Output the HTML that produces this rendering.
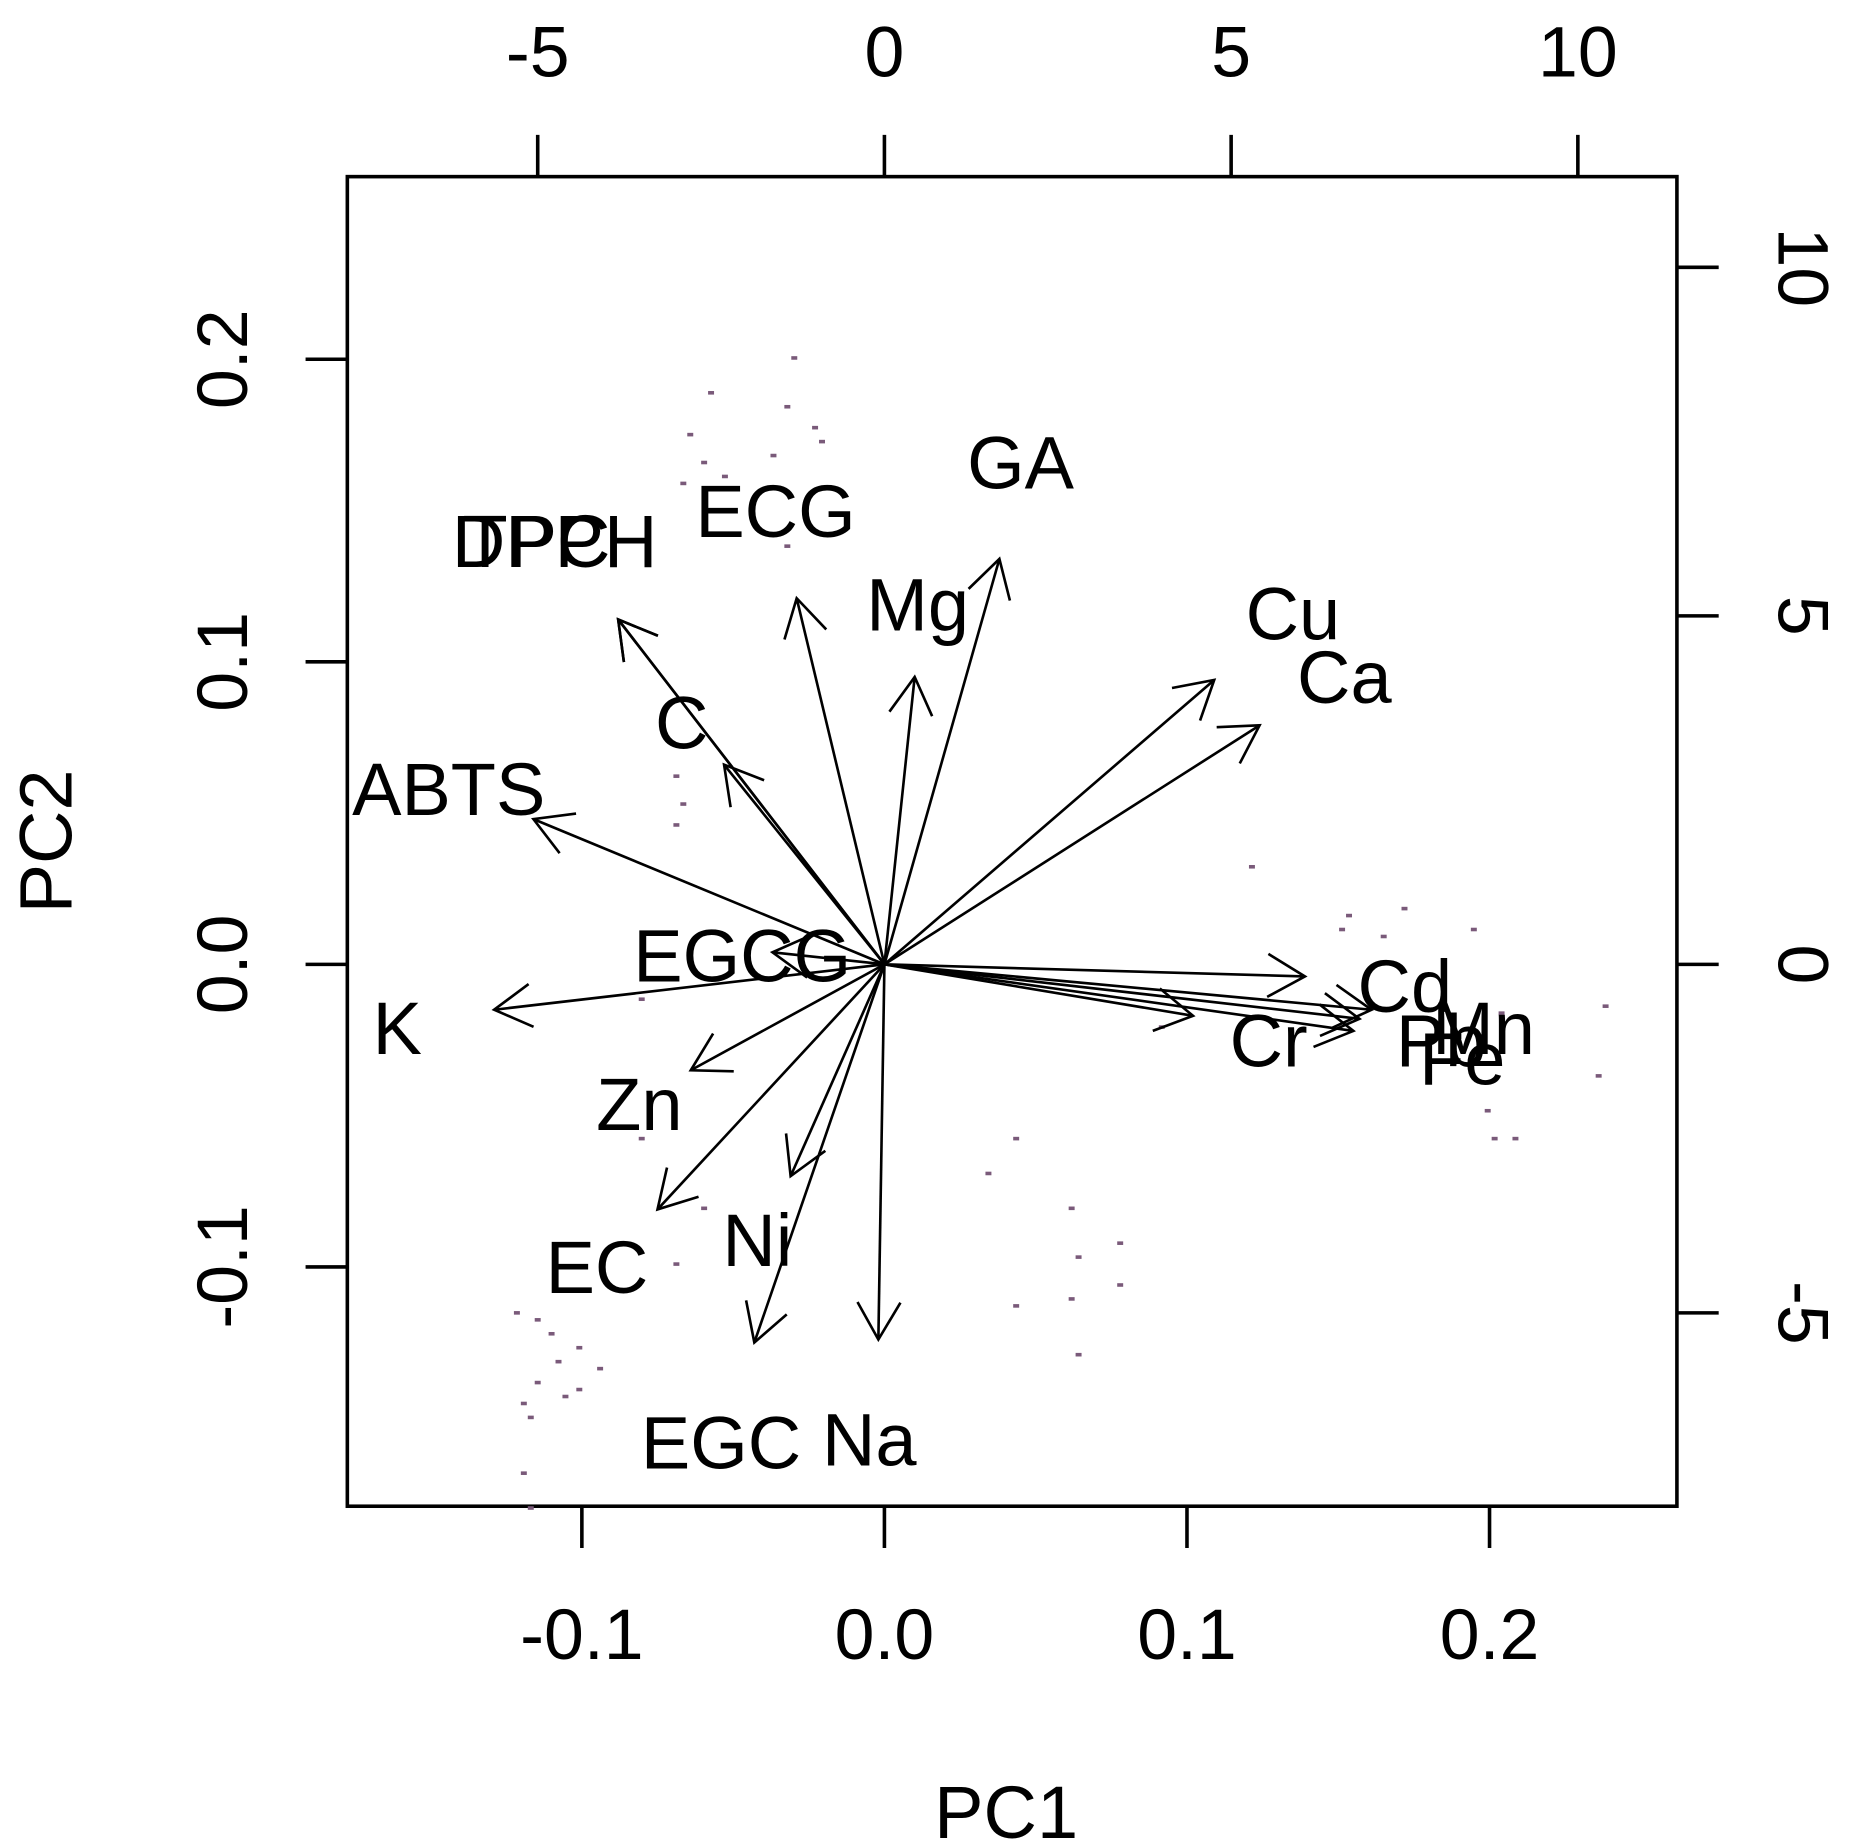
<!DOCTYPE html>
<html><head><meta charset="utf-8"><style>
html,body{margin:0;padding:0;background:#fff;}
svg{display:block;}
text{font-family:"Liberation Sans",sans-serif;fill:#000;}
</style></head><body>
<svg id="chart" width="1850" height="1841" viewBox="0 0 1550 1542.5" xmlns="http://www.w3.org/2000/svg">
<rect x="291" y="148" width="1114" height="1114" fill="none" stroke="#000" stroke-width="3"/>
<g id="axes"></g>
<g id="scores"></g>
<g id="arrows"></g>
<g id="labels"></g>
<text x="843" y="1540" font-size="62" text-anchor="middle">PC1</text>
<text x="60" y="705" font-size="62" text-anchor="middle" transform="rotate(-90 60 705)">PC2</text>
</svg>
<script>
// loadings (PC1, PC2)
const varNames = ["ECG","Mg","GA","Cu","Ca","DPPH","TPC","C","ABTS","EGCG","K","Zn","EC","Ni","EGC","Na","Cd","Cr","Pb","Fe","Mn"];
const loadX = [-0.029,0.010,0.038,0.109,0.124,-0.088,-0.088,-0.053,-0.116,-0.037,-0.129,-0.064,-0.075,-0.031,-0.043,-0.002,0.139,0.102,0.157,0.155,0.161];
const loadY = [0.121,0.095,0.134,0.094,0.079,0.114,0.114,0.066,0.048,0.004,-0.015,-0.035,-0.081,-0.070,-0.125,-0.124,-0.004,-0.017,-0.018,-0.022,-0.015];
const labX = [-0.036,0.011,0.045,0.135,0.152,-0.109,-0.115,-0.067,-0.144,-0.047,-0.161,-0.081,-0.095,-0.042,-0.054,-0.005,0.172,0.127,0.184,0.191,0.198];
const labY = [0.150,0.119,0.166,0.116,0.095,0.140,0.140,0.080,0.058,0.003,-0.021,-0.046,-0.100,-0.091,-0.158,-0.157,-0.007,-0.025,-0.025,-0.031,-0.021];
// scores (top/right axis units)
const scoreX = [-1.3,-2.5,-1.4,-2.8,-1.0,-0.9,-2.6,-2.3,-1.6,-2.9,-1.4,-3.0,-2.9,-3.0,-3.5,-3.5,-2.6,-3.0,-5.3,-5.0,-4.8,-4.4,-4.7,-4.1,-5.0,-4.6,-5.2,-4.4,-5.1,-5.2,-5.1,1.9,1.5,2.7,2.8,3.4,2.7,3.4,1.9,2.8,5.3,6.7,7.5,6.6,7.2,8.5,8.9,10.4,10.3,8.7,8.8,9.1,4.0];
const scoreY = [8.7,8.2,8.0,7.6,7.7,7.5,7.2,7.0,7.3,6.9,6.0,2.7,2.3,2.0,-0.5,-2.5,-3.5,-4.3,-5.0,-5.1,-5.3,-5.5,-5.7,-5.8,-6.0,-6.2,-6.3,-6.1,-6.5,-7.3,-7.8,-2.5,-3.0,-3.5,-4.2,-4.0,-4.8,-4.6,-4.9,-5.6,1.4,0.7,0.8,0.5,0.4,0.5,-0.7,-0.6,-1.6,-2.1,-2.5,-2.5,-0.9];
const bottomTicks = [-0.1,0.0,0.1,0.2];
const bottomLabels = ["-0.1","0.0","0.1","0.2"];
const leftTicks = [-0.1,0.0,0.1,0.2];
const leftLabels = ["-0.1","0.0","0.1","0.2"];
const topTicks = [-5,0,5,10];
const topLabels = ["-5","0","5","10"];
const rightTicks = [-5,0,5,10];
const rightLabels = ["-5","0","5","10"];

const NS="http://www.w3.org/2000/svg";
const X0=741, Y0=808;
const sx = v => X0 + v*2535;
const sy = v => Y0 - v*2535;
const tx = v => X0 + v*58.1;
const ty = v => Y0 - v*58.4;
function mk(tag, attrs, parent){const e=document.createElementNS(NS,tag);for(const k in attrs)e.setAttribute(k,attrs[k]);parent.appendChild(e);return e;}
const axes=document.getElementById('axes');
bottomTicks.forEach((t,i)=>{
  const l=mk('line',{x1:sx(t),x2:sx(t),y1:1262,y2:1297,stroke:'#000','stroke-width':3},axes);
  
  
  const tt=mk('text',{x:sx(t),y:1390,'font-size':60,'text-anchor':'middle'},axes);tt.textContent=bottomLabels[i];
  
  
});
leftTicks.forEach((t,i)=>{
  const l=mk('line',{x1:256,x2:291,y1:sy(t),y2:sy(t),stroke:'#000','stroke-width':3},axes);
  
  
  const tt=mk('text',{x:207,y:sy(t),'font-size':60,'text-anchor':'middle',transform:`rotate(-90 207 ${sy(t)})`},axes);tt.textContent=leftLabels[i];
  
  
});
topTicks.forEach((t,i)=>{
  const l=mk('line',{x1:tx(t),x2:tx(t),y1:113,y2:148,stroke:'#000','stroke-width':3},axes);
  
  
  const tt=mk('text',{x:tx(t),y:64,'font-size':60,'text-anchor':'middle'},axes);tt.textContent=topLabels[i];
  
  
});
rightTicks.forEach((t,i)=>{
  const l=mk('line',{x1:1405,x2:1440,y1:ty(t),y2:ty(t),stroke:'#000','stroke-width':3},axes);
  
  
  const tt=mk('text',{x:1490,y:ty(t),'font-size':60,'text-anchor':'middle',transform:`rotate(90 1490 ${ty(t)})`},axes);tt.textContent=rightLabels[i];
  
  
});
const sc=document.getElementById('scores');
scoreX.forEach((v,i)=>{
  const r=mk('rect',{x:tx(v)-2.5,y:ty(scoreY[i])-1.5,width:5,height:3,fill:'#7a5a7a'},sc);
  
  
});
const ar=document.getElementById('arrows');
const lb=document.getElementById('labels');
varNames.forEach((n,i)=>{
  const x2=sx(loadX[i]), y2=sy(loadY[i]);
  const g=mk('g',{stroke:'#000','stroke-width':2.2,fill:'none'},ar);
  
  
  mk('line',{x1:X0,y1:Y0,x2:x2,y2:y2},g);
  const a=Math.atan2(y2-Y0,x2-X0), L=36, h=Math.PI/6;
  const p1=[x2-L*Math.cos(a-h),y2-L*Math.sin(a-h)], p2=[x2-L*Math.cos(a+h),y2-L*Math.sin(a+h)];
  mk('polyline',{points:`${p1[0]},${p1[1]} ${x2},${y2} ${p2[0]},${p2[1]}`},g);
  const t=mk('text',{x:sx(labX[i]),y:sy(labY[i])+22,'font-size':62,'text-anchor':'middle'},lb);
  t.textContent=n;
  
  
});
</script>
</body></html>
